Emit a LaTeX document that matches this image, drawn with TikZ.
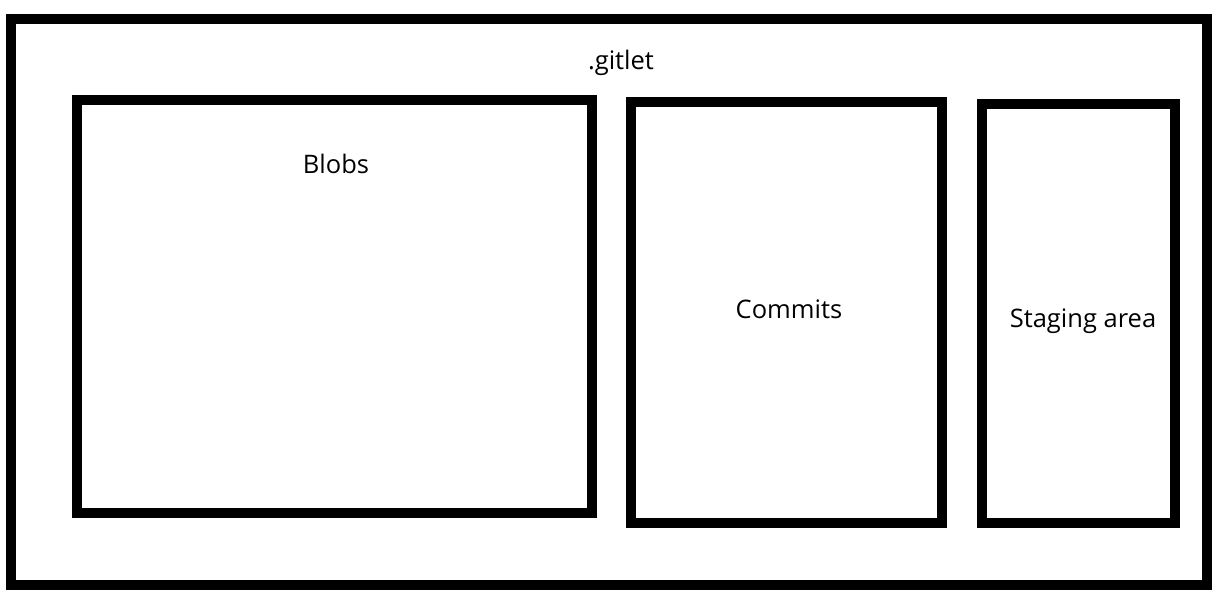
\documentclass[tikz,border=0pt]{standalone}
\usepackage{fontspec}
\setmainfont{Open Sans}
\begin{document}
\begin{tikzpicture}[x=1pt,y=-1pt,
  box/.style={draw=black,line width=10pt},
  lbl/.style={font=\fontsize{25.5}{30}\selectfont,text=black,inner sep=0pt}]
\useasboundingbox (0,0) rectangle (1226,593);
\draw[box] (11,19) rectangle (1207,585);
\draw[box] (77,100) rectangle (592,513);
\draw[box] (631,102) rectangle (942,523);
\draw[box] (982,104) rectangle (1175,523);
\node[lbl] (gitlet) at (621,63) {.gitlet};
\node[lbl] (blobs) at (336,164) {Blobs};
\node[lbl] (commits) at (789,309) {Commits};
\node[lbl] (staging) at (1083,321) {Staging area};
\end{tikzpicture}
\end{document}
